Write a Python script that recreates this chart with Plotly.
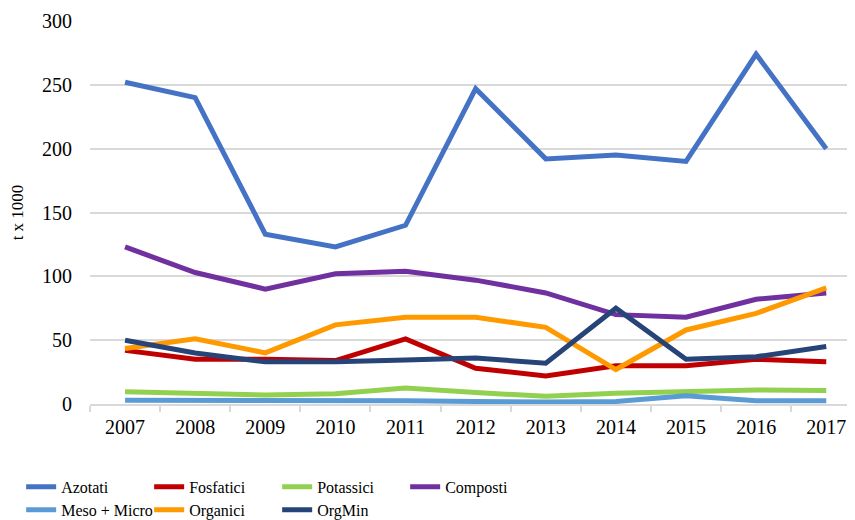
import plotly.graph_objects as go

anni = ["2007", "2008", "2009", "2010", "2011", "2012", "2013", "2014", "2015", "2016", "2017"]

azotati = [252, 240, 133, 123, 140, 247, 192, 195, 190, 274, 200]
fosfatici = [42, 35, 35, 34, 51, 28, 22, 30, 30, 35, 33]
potassici = [9.5, 8, 7, 8, 12.5, 9, 6, 8.5, 9.5, 11, 10.5]
composti = [123, 103, 90, 102, 104, 97, 87, 70, 68, 82, 87]
meso_micro = [3, 3, 2.5, 2.5, 2.5, 2, 1.5, 2, 6.5, 2.5, 2.5]
organici = [43.5, 51, 40, 62, 68, 68, 60, 27, 58, 71, 91]
orgmin = [50, 40, 33, 33, 34.5, 36, 32, 75, 35, 37, 45]

serie = [
    ("Azotati", azotati, "#4472c4", "legend"),
    ("Fosfatici", fosfatici, "#c00000", "legend"),
    ("Potassici", potassici, "#92d050", "legend"),
    ("Composti", composti, "#7030a0", "legend"),
    ("Meso + Micro", meso_micro, "#5b9bd5", "legend2"),
    ("Organici", organici, "#ff9900", "legend2"),
    ("OrgMin", orgmin, "#264478", "legend2"),
]

fig = go.Figure()
for nome, valori, colore, leg in serie:
    fig.add_trace(go.Scatter(
        x=anni, y=valori, name=nome, mode="lines",
        line=dict(color=colore, width=5),
        legend=leg,
    ))

font_serif = "Liberation Serif"

# due legende per avere 4 voci sulla prima riga e 3 sulla seconda
leg_style = dict(
    orientation="h", xanchor="left", yanchor="top",
    entrywidth=83, entrywidthmode="pixels",
    font=dict(family=font_serif, size=16, color="#000000"),
    bgcolor="rgba(0,0,0,0)", itemwidth=30,
    tracegroupgap=0, traceorder="normal",
)

# la pagina ha 8px di margine (body), quindi figura 847x512
fig.update_layout(
    width=847, height=512,
    margin=dict(l=82, r=0, t=13, b=116, autoexpand=False),
    paper_bgcolor="white", plot_bgcolor="white",
    font=dict(family=font_serif, size=20, color="#000000"),
    legend=dict(leg_style, x=-0.09, y=-0.172),
    legend2=dict(leg_style, x=-0.09, y=-0.232),
    showlegend=True,
)

fig.update_xaxes(
    type="category", range=[-0.5, 10.41],
    showgrid=False, showline=True, linecolor="#d9d9d9", linewidth=1.5,
    ticks="outside", tickson="boundaries", ticklen=6, tickcolor="#d9d9d9", tickwidth=1.5,
    ticklabelstandoff=4,
    tickfont=dict(family=font_serif, size=20, color="#000000"),
)
fig.update_yaxes(
    range=[0, 300], dtick=50,
    showgrid=True, gridcolor="#d9d9d9", gridwidth=1.5,
    zeroline=False, showline=False,
    ticks="outside", ticklen=13, tickcolor="white",
    tickfont=dict(family=font_serif, size=20, color="#000000"),
    title=dict(text="t x 1000", font=dict(family=font_serif, size=17, color="#000000"), standoff=16),
)

fig.write_html("out.html")
